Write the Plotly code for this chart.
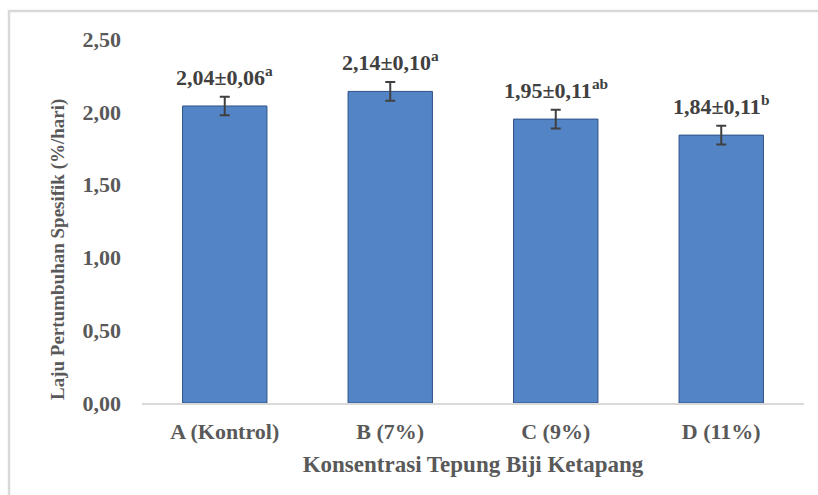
import plotly.graph_objects as go

# Specific growth rate per treatment (mean ± SD) and significance letters
categories = ["A (Kontrol)", "B (7%)", "C (9%)", "D (11%)"]
means = [2.04, 2.14, 1.95, 1.84]
sds = [0.06, 0.10, 0.11, 0.11]
letters = ["a", "a", "ab", "b"]
# Whisker half-lengths (standard error of the series)
whiskers = [0.064, 0.064, 0.064, 0.064]
y_ticks = [0, 0.5, 1.0, 1.5, 2.0, 2.5]
y_tick_labels = ["0,00", "0,50", "1,00", "1,50", "2,00", "2,50"]

W, H = 818, 495
ML, MR, MT, MB = 142, 14, 39, 92
plot_w = W - ML - MR
plot_h = H - MT - MB

FONT = "Liberation Serif, Times New Roman, serif"
GREY = "#595959"


def fmt(v):
    return f"{v:.2f}".replace(".", ",")


fig = go.Figure()
fig.add_trace(go.Bar(
    x=categories,
    y=means,
    width=0.51,
    marker=dict(color="#5284c6", line=dict(color="#2f5287", width=1)),
    error_y=dict(type="data", array=whiskers, visible=True,
                 color="#404040", thickness=2, width=5),
    hoverinfo="skip",
))

for cat, m, s, w, let in zip(categories, means, sds, whiskers, letters):
    fig.add_annotation(
        x=cat, y=m + w, xref="x", yref="y",
        text=f"<b>{fmt(m)}±{fmt(s)}<sup>{let}</sup></b>",
        showarrow=False, yanchor="bottom", yshift=5,
        font=dict(family=FONT, size=22, color="#404040"),
    )

# Y axis title placed as a rotated annotation
fig.add_annotation(
    x=(58 - ML) / plot_w, y=(H - MB - 250) / plot_h,
    xref="paper", yref="paper", xanchor="center", yanchor="middle",
    text="<b>Laju Pertumbuhan Spesifik (%/hari)</b>",
    textangle=-90, showarrow=False,
    font=dict(family=FONT, size=19, color=GREY),
)

# Outer frame around the whole chart
fig.add_shape(
    type="rect", xref="paper", yref="paper",
    x0=(9 - ML) / plot_w, x1=(830 - ML) / plot_w,
    y0=(H - MB - 510) / plot_h, y1=(H - MB - 11) / plot_h,
    line=dict(color="#d9d9d9", width=2.5), fillcolor="rgba(0,0,0,0)",
    layer="below",
)

fig.update_layout(
    width=W, height=H,
    margin=dict(l=ML, r=MR, t=MT, b=MB),
    paper_bgcolor="white", plot_bgcolor="white",
    showlegend=False,
    font=dict(family=FONT, color=GREY),
    xaxis=dict(
        showgrid=False, showline=True, linecolor="#d9d9d9", linewidth=2,
        ticks="", ticklabelstandoff=8,
        tickfont=dict(family=FONT, size=22, color=GREY),
        title=dict(text="<b>Konsentrasi Tepung Biji Ketapang</b>",
                   font=dict(family=FONT, size=23, color=GREY), standoff=12),
        tickprefix="<b>", ticksuffix="</b>",
    ),
    yaxis=dict(
        range=[0, 2.5], showgrid=False, zeroline=False, showline=False,
        tickvals=y_ticks, ticktext=[f"<b>{t}</b>" for t in y_tick_labels],
        ticks="", ticklen=0, ticklabelstandoff=20,
        tickfont=dict(family=FONT, size=22, color=GREY),
    ),
)

fig.write_html("out.html")
